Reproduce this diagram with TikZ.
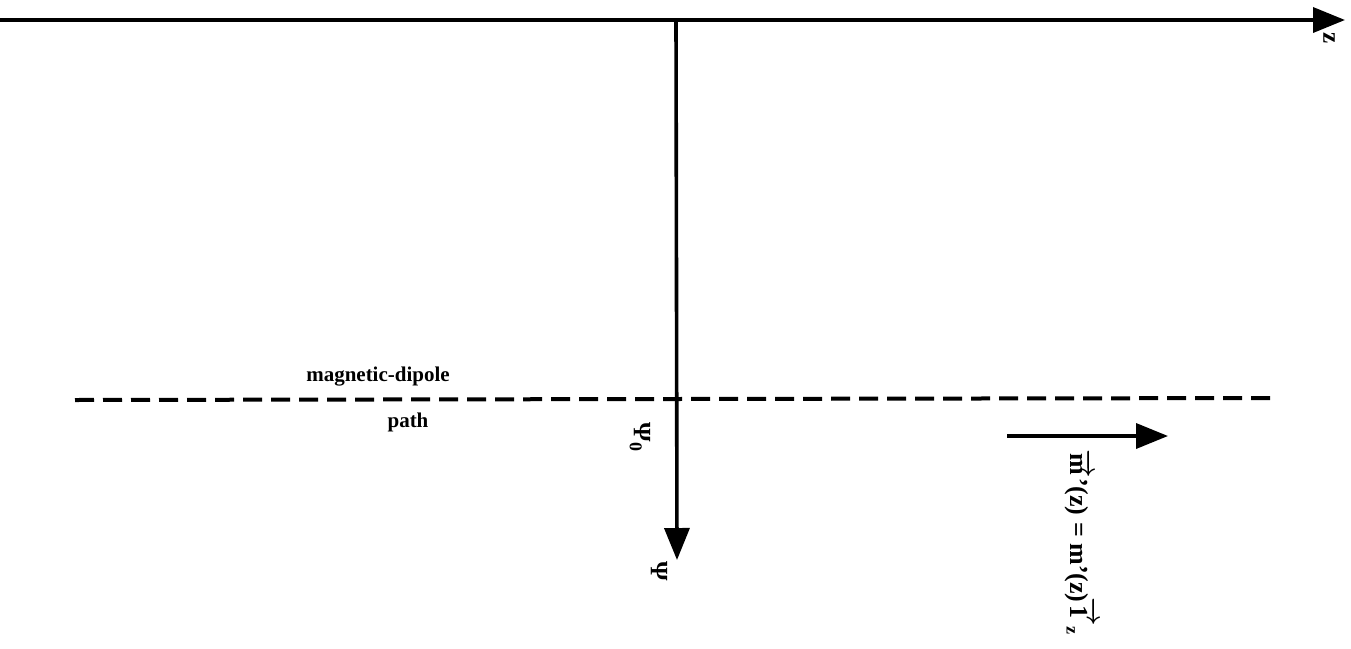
\documentclass[tikz,border=0pt]{standalone}
\usepackage{fontspec}
\setmainfont{Liberation Serif}
\usetikzlibrary{arrows.meta}
\newcommand{\subz}[1]{\mbox{\fontsize{18}{20}\selectfont #1}}
\begin{document}
\begin{tikzpicture}[x=1pt,y=-1pt,
  axis/.style={line width=3.6pt,-{Triangle[length=32pt,width=25pt]}},
  lbl/.style={font=\fontsize{21}{25}\selectfont\bfseries\boldmath,inner sep=0pt},
  rlbl/.style={lbl,rotate=-90},
  big/.style={font=\fontsize{25}{30}\selectfont\bfseries\boldmath}]
\useasboundingbox (0,0) rectangle (1351,648);
% z axis
\coordinate (zL) at (0,20);
\coordinate (zR) at (1345,20);
\draw[axis] (zL) -- (zR);
\node[rlbl,big] (zlab) at (1329,38) {z};
% psi axis
\coordinate (pT) at (676,20);
\coordinate (pB) at (677,560);
\draw[axis] (pT) -- (pB);
\node[rlbl,big] (psilab) at (659,571) {Ψ};
\node[rlbl,big] (psi0) at (640,437) {Ψ\raisebox{-0.35ex}{\subz{0}}};
% dipole path
\coordinate (dL) at (75,400);
\coordinate (dR) at (1278,398);
\draw[line width=4pt,dash pattern=on 19pt off 9pt] (dL) -- (dR);
\node[lbl] (mag) at (378,377) {magnetic-dipole};
\node[lbl] (path) at (408,422) {path};
% moment arrow
\coordinate (mL) at (1007,436);
\coordinate (mR) at (1168,436);
\draw[axis] (mL) -- (mR);
\node[rlbl,font=\fontsize{26}{30}\selectfont\bfseries\boldmath] (mlab) at (1081,542) {$\overrightarrow{\mbox{m}}\mbox{'(z) = m'(z)}\!\overrightarrow{\mbox{1}}\raisebox{-0.35ex}{\subz{z}}$};
\end{tikzpicture}
\end{document}
